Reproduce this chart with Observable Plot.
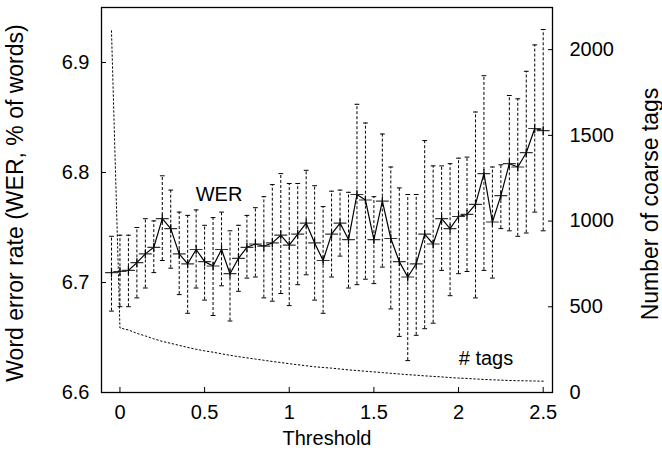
<!DOCTYPE html>
<html>
<head>
<meta charset="utf-8">
<script src="https://cdn.jsdelivr.net/npm/d3@7"></script>
<script src="https://cdn.jsdelivr.net/npm/@observablehq/plot@0.6"></script>
<style>
  html, body { margin: 0; padding: 0; background: #fff; }
  #chart svg { display: block; }
</style>
</head>
<body>
<div id="chart"></div>
<script>
// Threshold values (x)
const thresholds = [-0.05, 0, 0.05, 0.1, 0.15, 0.2, 0.25, 0.3, 0.35, 0.4, 0.45, 0.5, 0.55, 0.6, 0.65, 0.7, 0.75, 0.8, 0.85, 0.9, 0.95, 1.0, 1.05, 1.1, 1.15, 1.2, 1.25, 1.3, 1.35, 1.4, 1.45, 1.5, 1.55, 1.6, 1.65, 1.7, 1.75, 1.8, 1.85, 1.9, 1.95, 2.0, 2.05, 2.1, 2.15, 2.2, 2.25, 2.3, 2.35, 2.4, 2.45, 2.5];
// WER mean (% of words)
const wer = [6.709, 6.710, 6.711, 6.718, 6.726, 6.732, 6.758, 6.749, 6.726, 6.717, 6.730, 6.719, 6.715, 6.730, 6.708, 6.722, 6.732, 6.735, 6.733, 6.736, 6.743, 6.734, 6.744, 6.754, 6.736, 6.720, 6.744, 6.754, 6.739, 6.780, 6.775, 6.739, 6.774, 6.740, 6.719, 6.705, 6.717, 6.744, 6.735, 6.758, 6.749, 6.760, 6.762, 6.771, 6.799, 6.755, 6.779, 6.808, 6.805, 6.818, 6.840, 6.838];
// WER error bar low / high
const werLow = [6.674, 6.678, 6.678, 6.686, 6.695, 6.709, 6.720, 6.713, 6.689, 6.672, 6.695, 6.684, 6.670, 6.697, 6.665, 6.692, 6.704, 6.705, 6.686, 6.683, 6.690, 6.679, 6.698, 6.707, 6.684, 6.672, 6.705, 6.724, 6.695, 6.698, 6.703, 6.699, 6.714, 6.676, 6.651, 6.629, 6.652, 6.658, 6.663, 6.711, 6.688, 6.708, 6.710, 6.686, 6.711, 6.704, 6.749, 6.747, 6.742, 6.745, 6.764, 6.747];
const werHigh = [6.742, 6.743, 6.743, 6.750, 6.758, 6.756, 6.797, 6.784, 6.764, 6.761, 6.766, 6.752, 6.759, 6.764, 6.747, 6.752, 6.761, 6.768, 6.778, 6.789, 6.799, 6.790, 6.790, 6.802, 6.788, 6.769, 6.783, 6.784, 6.782, 6.862, 6.845, 6.778, 6.835, 6.805, 6.786, 6.780, 6.780, 6.829, 6.806, 6.806, 6.808, 6.813, 6.814, 6.855, 6.888, 6.805, 6.807, 6.870, 6.867, 6.892, 6.916, 6.930];
// Number of coarse tags
const tags = [2110, 376, 365, 345, 330, 313, 298, 287, 275, 263, 252, 243, 235, 226, 217, 209, 202, 195, 188, 181, 175, 168, 162, 156, 150, 146, 142, 137, 132, 128, 124, 120, 116, 112, 108, 104, 101, 97, 94, 91, 87, 84, 82, 79, 76, 74, 72, 70, 69, 68, 67, 66];

// Tick labels
const xTicks = [0, 0.5, 1, 1.5, 2, 2.5];
const yTicks = [6.6, 6.7, 6.8, 6.9];
const y2Ticks = [0, 500, 1000, 1500, 2000];

// Texts
const xLabel = "Threshold";
const yLabel = "Word error rate (WER, % of words)";
const y2Label = "Number of coarse tags";
const werNote = "WER";
const tagsNote = "# tags";

// right-axis mapping (tags -> WER units)
const yMin = 6.6, yMax = 6.95, tagsAtTop = 2246;
const toY = t => yMin + t * (yMax - yMin) / tagsAtTop;
const fromY = v => (v - yMin) * tagsAtTop / (yMax - yMin);

const data = thresholds.map((x, i) => ({x, wer: wer[i], lo: werLow[i], hi: werHigh[i], tags: toY(tags[i])}));

const hLine = len => ({draw(ctx) { ctx.moveTo(-len / 2, 0); ctx.lineTo(len / 2, 0); }});
const vLine = len => ({draw(ctx) { ctx.moveTo(0, -len / 2); ctx.lineTo(0, len / 2); }});

const FONT = "Liberation Sans, Arial, Helvetica, sans-serif";

const chart = Plot.plot({
  width: 662,
  height: 452,
  marginLeft: 101,
  marginRight: 110,
  marginTop: 7,
  marginBottom: 60,
  style: {fontFamily: FONT, fontSize: "20px", color: "#000", background: "#fff"},
  x: {domain: [-0.109, 2.555]},
  y: {domain: [yMin, yMax]},
  marks: [
    Plot.frame({stroke: "#000", strokeWidth: 1.3}),
    // error bars
    Plot.ruleX(data, {x: "x", y1: "lo", y2: "hi", stroke: "#000", strokeWidth: 1, strokeDasharray: "3,2"}),
    Plot.vector(data, {x: "x", y: "lo", length: 4, anchor: "start", shape: hLine(4), stroke: "#000", strokeWidth: 1}),
    Plot.vector(data, {x: "x", y: "hi", length: 4, anchor: "start", shape: hLine(4), stroke: "#000", strokeWidth: 1}),
    // WER line
    Plot.line(data, {x: "x", y: "wer", stroke: "#000", strokeWidth: 1.2}),
    // plus markers
    Plot.vector(data, {x: "x", y: "wer", length: 12, anchor: "start", shape: hLine(12), stroke: "#333", strokeWidth: 1.2}),
    Plot.vector(data, {x: "x", y: "wer", length: 8, anchor: "start", shape: vLine(8), stroke: "#000", strokeWidth: 1.2}),
    // tags line
    Plot.line(data, {x: "x", y: "tags", stroke: "#000", strokeWidth: 1, strokeDasharray: "1.5,2.5"}),
    // annotations
    Plot.text([werNote], {x: 0.585, y: 6.78, text: d => d, fontSize: 20, fill: "#000"}),
    Plot.text([tagsNote], {x: 2.162, y: 6.6306, text: d => d, fontSize: 20, fill: "#000"}),
    // axes
    Plot.axisX(xTicks, {anchor: "bottom", tickSize: -5, tickPadding: 17, tickFormat: d => String(d), label: null, fontSize: 20}),
    Plot.axisY(yTicks, {anchor: "left", tickSize: -5, tickPadding: 17, tickFormat: d => d.toFixed(1), label: null, fontSize: 20}),
    Plot.axisY(y2Ticks.map(toY), {anchor: "right", tickSize: -5, tickPadding: 22, tickFormat: d => String(Math.round(fromY(d))), label: null, fontSize: 20}),
    // axis titles
    Plot.text([xLabel], {frameAnchor: "bottom", dy: 52, textAnchor: "middle", text: d => d, fontSize: 20, fill: "#000"}),
    Plot.text([yLabel], {frameAnchor: "left", dx: -86, dy: 3, rotate: -90, textAnchor: "middle", text: d => d, fontSize: 23, fill: "#000"}),
    Plot.text([y2Label], {frameAnchor: "right", dx: 98, dy: 4, rotate: -90, textAnchor: "middle", text: d => d, fontSize: 23, fill: "#000"})
  ]
});
document.getElementById("chart").appendChild(chart);
</script>
</body>
</html>
